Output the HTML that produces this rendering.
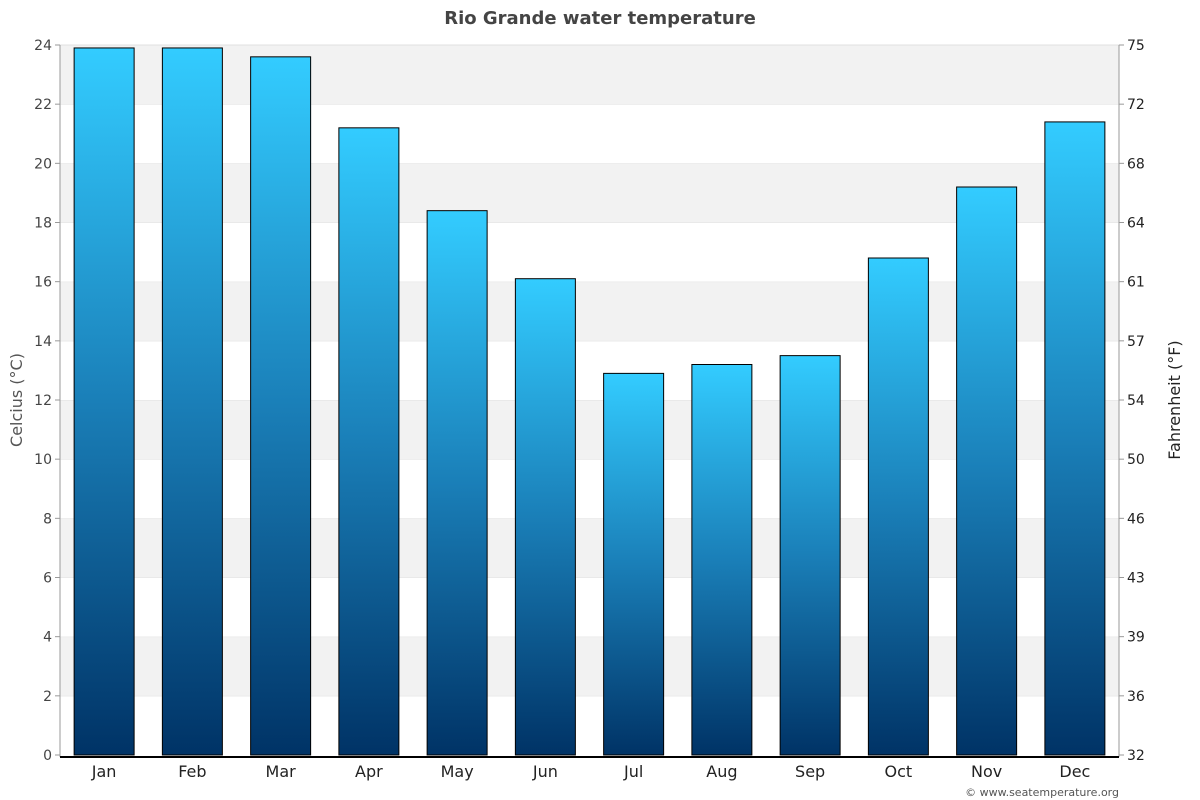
<!DOCTYPE html>
<html><head><meta charset="utf-8">
<style>
html,body{margin:0;padding:0;background:#fff;}
svg{display:block;font-family:"DejaVu Sans","Liberation Sans",sans-serif;}
</style></head>
<body>
<svg id="chart" width="1200" height="800" viewBox="0 0 1200 800">
<defs>
<linearGradient id="barGrad" x1="0" y1="0" x2="0" y2="1">
<stop offset="0" stop-color="#33ccff"/>
<stop offset="0.5" stop-color="#1a7fb8"/>
<stop offset="1" stop-color="#003366"/>
</linearGradient>
</defs>
<text x="600" y="24" text-anchor="middle" font-size="18" font-weight="bold" fill="#444">Rio Grande water temperature</text>
<g id="bands"></g>
<g id="bars"></g>
<g id="axes"></g>
<text transform="translate(22,400) rotate(-90)" text-anchor="middle" font-size="16" fill="#555">Celcius (°C)</text>
<text transform="translate(1180,400) rotate(-90)" text-anchor="middle" font-size="16" fill="#222">Fahrenheit (°F)</text>
<text x="1119" y="796" text-anchor="end" font-size="11" fill="#555">© www.seatemperature.org</text>
</svg>
<script>
const months = ["Jan","Feb","Mar","Apr","May","Jun","Jul","Aug","Sep","Oct","Nov","Dec"];
const tempsC = [23.9,23.9,23.6,21.2,18.4,16.1,12.9,13.2,13.5,16.8,19.2,21.4];
const cTicks = [0,2,4,6,8,10,12,14,16,18,20,22,24];
const fLabels = ["32","36","39","43","46","50","54","57","61","64","68","72","75"];

const NS = "http://www.w3.org/2000/svg";
const plotLeft = 60, plotRight = 1119, plotTop = 45, plotBottom = 755, yMax = 24;
const y = v => plotBottom - (v / yMax) * (plotBottom - plotTop);
const slot = (plotRight - plotLeft) / months.length;
const xc = i => plotLeft + slot * (i + 0.5);
const barW = 60;
function mk(tag, attrs, parent){ const e=document.createElementNS(NS,tag); for(const k in attrs) e.setAttribute(k,attrs[k]); parent.appendChild(e); return e; }

const bands = document.getElementById("bands");
for (let i = 0; i < cTicks.length - 1; i++) {
  const r = mk("rect",{x:plotLeft,y:y(cTicks[i+1]),width:plotRight-plotLeft,height:y(cTicks[i])-y(cTicks[i+1]),fill:(i%2===1)?"#f2f2f2":"#ffffff"},bands);
  
  
  const l = mk("line",{x1:plotLeft,x2:plotRight,y1:y(cTicks[i+1]),y2:y(cTicks[i+1]),stroke:"#e0e0e0","stroke-width":1},bands);
  
  
}

const bars = document.getElementById("bars");
tempsC.forEach((v, i) => {
  const r = mk("rect",{x:xc(i)-barW/2,y:y(v),width:barW,height:plotBottom-y(v),fill:"url(#barGrad)",stroke:"#000","stroke-width":1},bars);
  
  
});

const axes = document.getElementById("axes");
mk("line",{x1:plotLeft,x2:plotLeft,y1:plotTop,y2:plotBottom+2,stroke:"#999","stroke-width":1},axes);
mk("line",{x1:plotRight,x2:plotRight,y1:plotTop,y2:plotBottom+2,stroke:"#999","stroke-width":1},axes);
const xa = mk("line",{x1:plotLeft,x2:plotRight,y1:plotBottom+2,y2:plotBottom+2,stroke:"#000","stroke-width":2},axes);


cTicks.forEach((t, i) => {
  mk("line",{x1:plotLeft-5,x2:plotLeft,y1:y(t),y2:y(t),stroke:"#999"},axes);
  mk("line",{x1:plotRight,x2:plotRight+5,y1:y(t),y2:y(t),stroke:"#999"},axes);
  const a = mk("text",{x:plotLeft-8,y:y(t)+5,"text-anchor":"end","font-size":14,fill:"#444"},axes);
  a.textContent = t;
  
  
  const b = mk("text",{x:plotRight+8,y:y(t)+5,"text-anchor":"start","font-size":14,fill:"#222"},axes);
  b.textContent = fLabels[i];
  
  
});
months.forEach((m, i) => {
  const t = mk("text",{x:xc(i),y:777,"text-anchor":"middle","font-size":16,fill:"#222"},axes);
  t.textContent = m;
  
  
});
</script>
</body></html>
